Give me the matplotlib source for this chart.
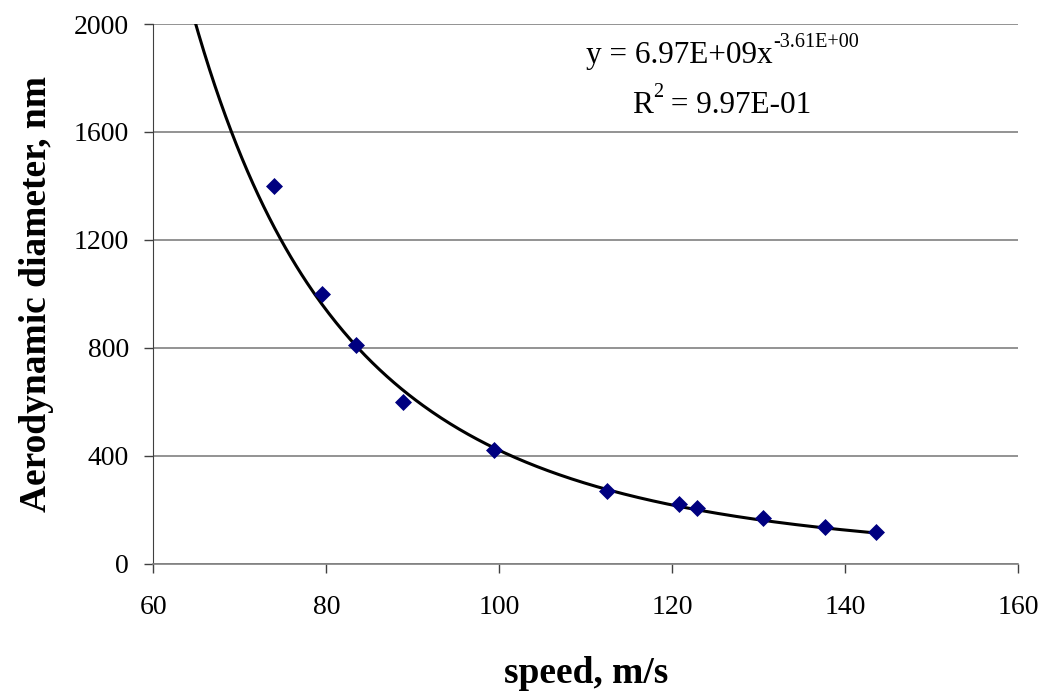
import numpy as np
import matplotlib.pyplot as plt

plt.rcParams['font.family'] = ['Liberation Serif', 'DejaVu Serif']

# measured speed (m/s) vs aerodynamic diameter (nm)
speed = [74.0, 79.5, 83.4, 88.9, 99.4, 112.5, 120.8, 122.8, 130.5, 137.6, 143.5]
diameter = [1400, 1000, 810, 600, 420, 270, 220, 208, 170, 137, 116]

# power trendline y = a * x^b, as printed on the chart
fit_a = 6.97e9
fit_b = -3.61

x_ticks = [60, 80, 100, 120, 140, 160]
y_ticks = [0, 400, 800, 1200, 1600, 2000]

W, H = 1046, 691
fig = plt.figure(figsize=(W / 100, H / 100), dpi=100)
ax = fig.add_axes([153.3 / W, 1 - 563.7 / H, 865 / W, 539.7 / H])

xs = np.linspace(60, max(speed), 400)
ax.plot(xs, fit_a * xs ** fit_b, color='black', lw=2.2, zorder=3)
ax.scatter(speed, diameter, marker='D', s=75, color='#000080', zorder=4, linewidths=0)

ax.set_xlim(60, 160)
ax.set_ylim(0, 2000)
ax.set_xticks(x_ticks)
ax.set_yticks(y_ticks)
ax.yaxis.grid(True, color='#808080', lw=1.2)
ax.set_axisbelow(True)
ax.tick_params(direction='out', length=6.5, width=1, color='#404040', labelsize=20, pad=11)
ax.tick_params(axis='x', pad=16)

for side in ['top', 'right']:
    ax.spines[side].set_visible(False)
ax.spines['left'].set_color('#404040')
ax.spines['bottom'].set_color('#808080')
ax.spines['bottom'].set_linewidth(1.2)

# axis titles placed by pixel position
fig.text(586 / W, 1 - 683 / H, 'speed, m/s', fontsize=27, fontweight='bold',
         ha='center', va='baseline')
fig.text(37 / W, 1 - 294 / H, 'Aerodynamic diameter, nm', fontsize=27, fontweight='bold',
         rotation=90, ha='center', va='center')

# trendline equation, pieces chained so the superscripts sit after the base text
eq = fig.text(773 / W, 1 - 63 / H, 'y = 6.97E+09x', fontsize=22.5, ha='right', va='baseline')
ax.annotate('-3.61E+00', xy=(1, 0.62), xycoords=eq, fontsize=14.5, ha='left', va='bottom')

r = fig.text(632 / W, 1 - 113 / H, 'R', fontsize=22.5, ha='left', va='baseline')
sup = ax.annotate('2', xy=(1, 0.62), xycoords=r, fontsize=14.5, ha='left', va='bottom')
ax.annotate(' = 9.97E-01', xy=(1, 0), xycoords=(sup, r), fontsize=22.5, ha='left', va='bottom')

fig.savefig('out.png', dpi=100)
